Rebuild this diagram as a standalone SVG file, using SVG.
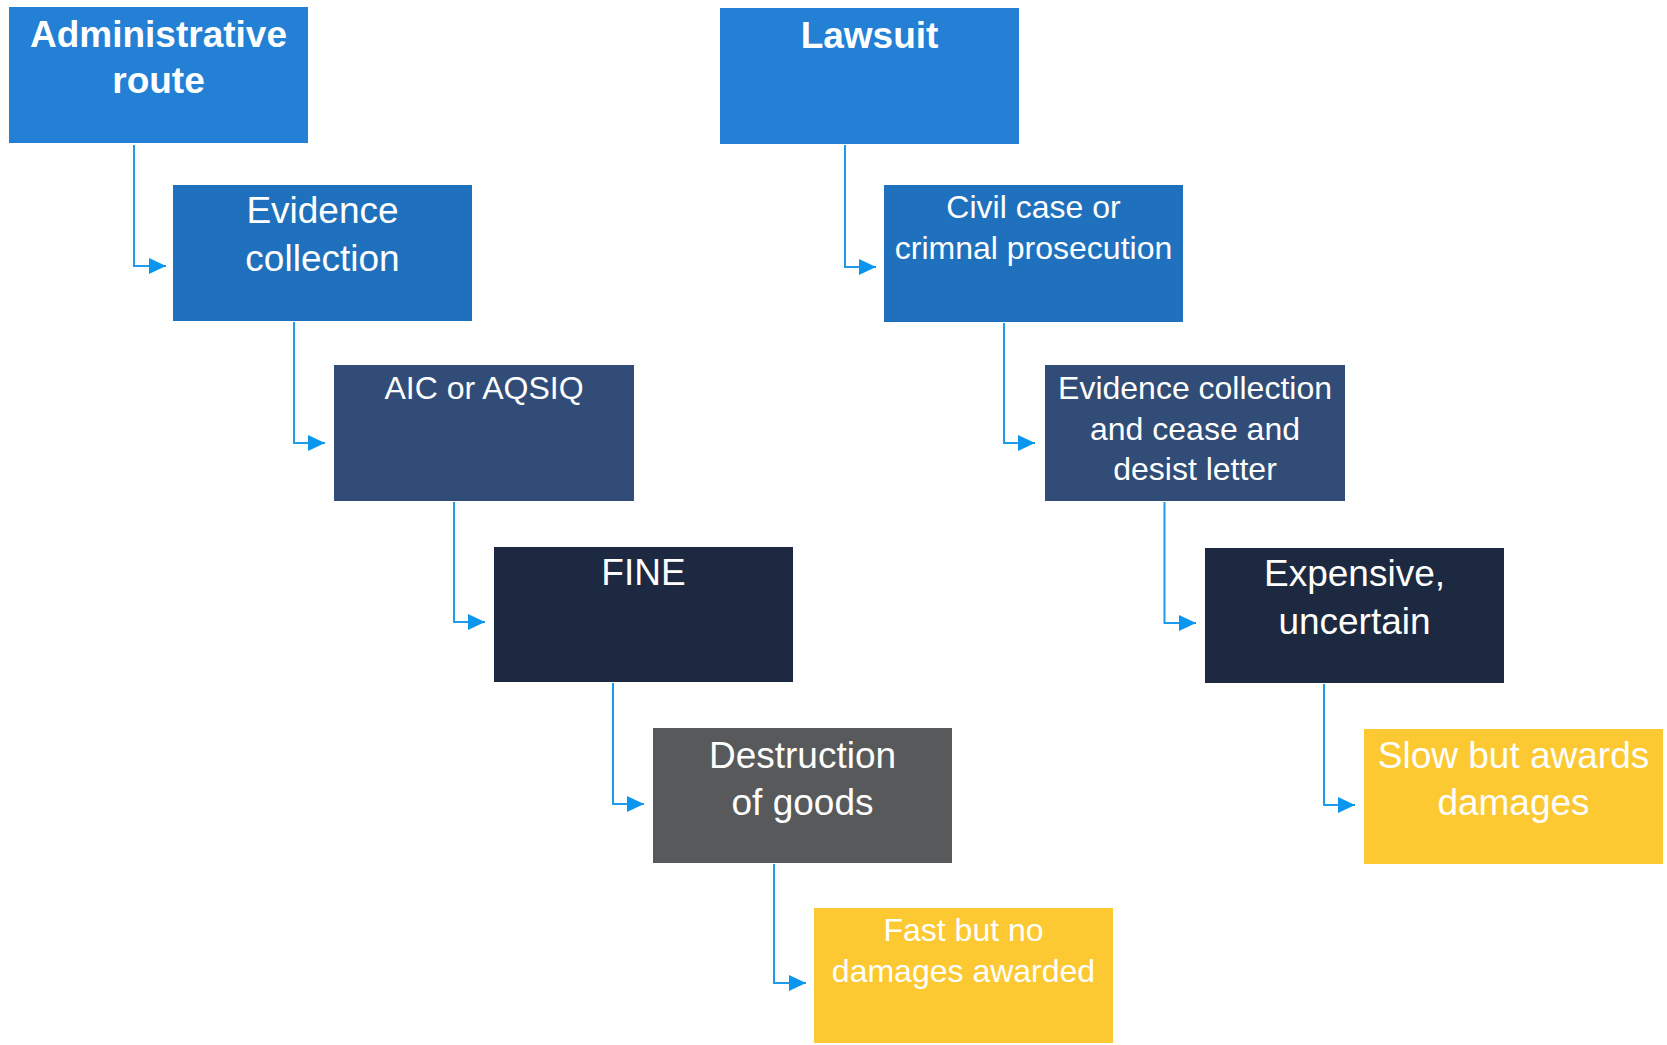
<svg xmlns="http://www.w3.org/2000/svg" width="1667" height="1045" viewBox="0 0 1667 1045">
<defs>
<style>
.t{font-family:"Liberation Sans",Arial,sans-serif;fill:#ffffff;text-anchor:middle}
.b{font-weight:bold;font-size:37px}
.l{font-size:37px}
.s{font-size:32px}
.c{fill:none;stroke:#1E9CEB;stroke-width:2;marker-end:url(#ah)}
.top{fill:#2380D5}
.lv2{fill:#2071BD}
.lv3{fill:#314C76}
.lv4{fill:#1C2941}
.grey{fill:#58595B}
.yel{fill:#FDC932}
</style>
<marker id="ah" viewBox="0 0 17 16" refX="17" refY="8" markerWidth="17" markerHeight="16" markerUnits="userSpaceOnUse" orient="auto">
<path d="M0,0 L17,8 L0,16 Z" fill="#0A96EE"/>
</marker>
</defs>
<rect width="1667" height="1045" fill="#ffffff"/>
<g id="connectors">
<path class="c" d="M134,145 V266 H166"/>
<path class="c" d="M294,322 V443 H325"/>
<path class="c" d="M454,502 V622 H485"/>
<path class="c" d="M613,683 V804 H644"/>
<path class="c" d="M774,864 V983 H806"/>
<path class="c" d="M845,145 V267 H876"/>
<path class="c" d="M1004,323 V443 H1035"/>
<path class="c" d="M1164.5,502 V623 H1196"/>
<path class="c" d="M1324,684 V805 H1355"/>
</g>
<g id="admin">
<rect class="top" x="9" y="7" width="299" height="136"/>
<text class="t b" x="158.5" y="47">Administrative</text>
<text class="t b" x="158.5" y="93">route</text>
</g>
<g id="evidence">
<rect class="lv2" x="173" y="185" width="299" height="136"/>
<text class="t l" x="322.5" y="223">Evidence</text>
<text class="t l" x="322.5" y="271">collection</text>
</g>
<g id="aic">
<rect class="lv3" x="334" y="365" width="300" height="136"/>
<text class="t s" x="484" y="399">AIC or AQSIQ</text>
</g>
<g id="fine">
<rect class="lv4" x="494" y="547" width="299" height="135"/>
<text class="t l" x="643.5" y="585">FINE</text>
</g>
<g id="destruction">
<rect class="grey" x="653" y="728" width="299" height="135"/>
<text class="t l" x="802.5" y="768">Destruction</text>
<text class="t l" x="802.5" y="815">of goods</text>
</g>
<g id="fast">
<rect class="yel" x="814" y="908" width="299" height="135"/>
<text class="t s" x="963.5" y="941">Fast but no</text>
<text class="t s" x="963.5" y="982">damages awarded</text>
</g>
<g id="lawsuit">
<rect class="top" x="720" y="8" width="299" height="136"/>
<text class="t b" x="869.5" y="48">Lawsuit</text>
</g>
<g id="civil">
<rect class="lv2" x="884" y="185" width="299" height="137"/>
<text class="t s" x="1033.5" y="218">Civil case or</text>
<text class="t s" x="1033.5" y="259">crimnal prosecution</text>
</g>
<g id="evidence-letter">
<rect class="lv3" x="1045" y="365" width="300" height="136"/>
<text class="t s" x="1195" y="399">Evidence collection</text>
<text class="t s" x="1195" y="440">and cease and</text>
<text class="t s" x="1195" y="480">desist letter</text>
</g>
<g id="expensive">
<rect class="lv4" x="1205" y="548" width="299" height="135"/>
<text class="t l" x="1354.5" y="586">Expensive,</text>
<text class="t l" x="1354.5" y="634">uncertain</text>
</g>
<g id="slow">
<rect class="yel" x="1364" y="729" width="299" height="135"/>
<text class="t l" x="1513.5" y="768">Slow but awards</text>
<text class="t l" x="1513.5" y="815">damages</text>
</g>
</svg>
